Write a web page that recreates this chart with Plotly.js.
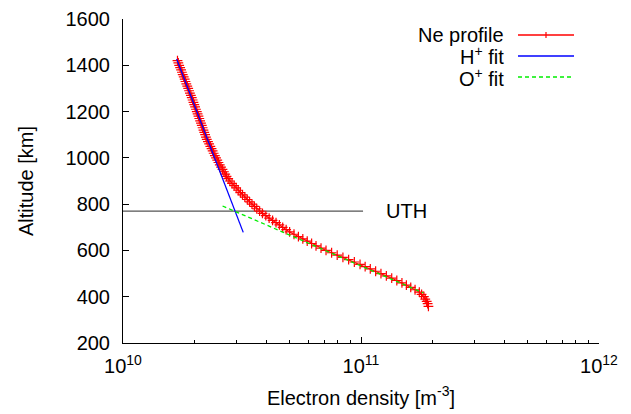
<!DOCTYPE html>
<html>
<head>
<meta charset="utf-8">
<script src="https://cdn.plot.ly/plotly-3.0.1.min.js"></script>
<style>html,body{margin:0;padding:0;background:#fff;}#chart{width:631px;height:414px;}</style>
</head>
<body>
<div id="chart"></div>
<script>
// Ne profile (10 km steps)
var neAltitude = [1420,1410,1400,1390,1380,1370,1360,1350,1340,1330,1320,1310,1300,1290,1280,1270,1260,1250,1240,1230,1220,1210,1200,1190,1180,1170,1160,1150,1140,1130,1120,1110,1100,1090,1080,1070,1060,1050,1040,1030,1020,1010,1000,990,980,970,960,950,940,930,920,910,900,890,880,870,860,850,840,830,820,810,800,790,780,770,760,750,740,730,720,710,700,690,680,670,660,650,640,630,620,610,600,590,580,570,560,550,540,530,520,510,500,490,480,470,460,450,440,430,420,410,400,390,380,370,358];
var neDensity = [1.694e10,1.708e10,1.722e10,1.738e10,1.754e10,1.768e10,1.782e10,1.799e10,1.816e10,1.830e10,1.845e10,1.862e10,1.879e10,1.895e10,1.910e10,1.928e10,1.945e10,1.961e10,1.977e10,1.993e10,2.009e10,2.026e10,2.042e10,2.058e10,2.075e10,2.092e10,2.109e10,2.126e10,2.143e10,2.160e10,2.178e10,2.195e10,2.213e10,2.231e10,2.249e10,2.275e10,2.301e10,2.328e10,2.355e10,2.380e10,2.404e10,2.432e10,2.460e10,2.489e10,2.518e10,2.550e10,2.582e10,2.618e10,2.655e10,2.689e10,2.723e10,2.767e10,2.812e10,2.871e10,2.931e10,2.989e10,3.048e10,3.112e10,3.177e10,3.251e10,3.327e10,3.404e10,3.483e10,3.565e10,3.648e10,3.750e10,3.855e10,3.981e10,4.111e10,4.251e10,4.395e10,4.539e10,4.688e10,4.847e10,5.012e10,5.230e10,5.458e10,5.695e10,5.943e10,6.201e10,6.471e10,6.792e10,7.129e10,7.525e10,7.943e10,8.395e10,8.872e10,9.376e10,9.908e10,1.041e11,1.094e11,1.152e11,1.213e11,1.278e11,1.346e11,1.414e11,1.486e11,1.551e11,1.618e11,1.687e11,1.758e11,1.797e11,1.837e11,1.862e11,1.888e11,1.905e11,1.920e11];
// H+ fit
var hFitDensity = [1.68e10, 3.2e10];
var hFitAltitude = [1427, 678];
// O+ fit
var oFitDensity = [2.62e10, 1.83e11];
var oFitAltitude = [792, 416];
// UTH level
var uthDensity = [1e10, 1.02e11];
var uthAltitude = [770, 770];
var uthLabel = 'UTH';
var uthLabelDensity = 1.25e11;
// axis ticks
var xTickVals = [1e10, 1e11, 1e12];
var xTickText = ['10<sup>10</sup>', '10<sup>11</sup>', '10<sup>12</sup>'];
var legendNames = ['Ne profile', 'H<sup>+</sup> fit', 'O<sup>+</sup> fit'];

var FONT = 'Liberation Sans, Arial, Helvetica, sans-serif';
var minorVals = [];
[1e10, 1e11].forEach(function(d){ for (var k = 2; k <= 9; k++) minorVals.push(k * d); });

var traces = [
  {x: uthDensity, y: uthAltitude, mode: 'lines', line: {color: '#555555', width: 1.3}, hoverinfo: 'skip'},
  {x: neDensity, y: neAltitude, mode: 'lines+markers', name: legendNames[0],
   line: {color: '#ff0000', width: 1.2},
   marker: {symbol: 'cross-thin', size: 7, color: '#ff0000', line: {color: '#ff0000', width: 1.2}}},
  {x: hFitDensity, y: hFitAltitude, mode: 'lines', name: legendNames[1], line: {color: '#0000ff', width: 1.3}},
  {x: oFitDensity, y: oFitAltitude, mode: 'lines', name: legendNames[2], line: {color: '#00ee00', width: 1.3, dash: '4px,3px'}}
];

// plot area in pixels: x 123..599, y 19..343
function px(x){ return (x - 123) / 476; }
function py(y){ return (343 - y) / 324; }
var rows = [35, 56, 77];
var colors = ['#ff0000', '#0000ff', '#00ee00'];
var shapes = [], annotations = [];
rows.forEach(function(r, i){
  shapes.push({type: 'line', xref: 'paper', yref: 'paper', x0: px(518), x1: px(574), y0: py(r), y1: py(r),
    line: {color: colors[i], width: 1.3, dash: i === 2 ? '4px,3px' : 'solid'}});
  annotations.push({xref: 'paper', yref: 'paper', x: px(506), y: py(r), xanchor: 'right', yanchor: 'middle',
    text: legendNames[i], showarrow: false, font: {family: FONT, size: 20, color: '#000'}});
});
shapes.push({type: 'line', xref: 'paper', yref: 'paper', x0: px(546), x1: px(546), y0: py(rows[0]) - 3/324, y1: py(rows[0]) + 3/324,
  line: {color: '#ff0000', width: 1.2}});
annotations.push({x: Math.log10(uthLabelDensity), y: uthAltitude[0], xref: 'x', yref: 'y', xanchor: 'left', yanchor: 'middle',
  text: uthLabel, showarrow: false, font: {family: FONT, size: 20, color: '#000'}});

var layout = {
  width: 631, height: 414,
  margin: {l: 123, r: 32, t: 19, b: 71, pad: 0},
  paper_bgcolor: '#fff', plot_bgcolor: '#fff',
  showlegend: false,
  font: {family: FONT, size: 20, color: '#000'},
  xaxis: {type: 'log', range: [10, 12], tickvals: xTickVals, ticktext: xTickText,
    ticks: 'inside', ticklen: 6, tickcolor: '#000', showline: true, linecolor: '#000', linewidth: 1,
    showgrid: false, zeroline: false, tickfont: {family: FONT, size: 20}, ticklabelstandoff: 5,
    minor: {tickvals: minorVals, ticks: 'inside', ticklen: 3, tickcolor: '#000', showgrid: false},
    title: {text: 'Electron density [m<sup>-3</sup>]', font: {family: FONT, size: 20}, standoff: 14}},
  yaxis: {range: [200, 1600], tick0: 200, dtick: 200, ticks: 'inside', ticklen: 6, tickcolor: '#000',
    showline: true, linecolor: '#000', linewidth: 1, showgrid: false, zeroline: false,
    tickfont: {family: FONT, size: 20}, ticklabelstandoff: 8,
    title: {text: 'Altitude [km]', font: {family: FONT, size: 20}, standoff: 26}},
  shapes: shapes, annotations: annotations
};
Plotly.newPlot('chart', traces, layout, {displayModeBar: false, staticPlot: true});
</script>
</body>
</html>
